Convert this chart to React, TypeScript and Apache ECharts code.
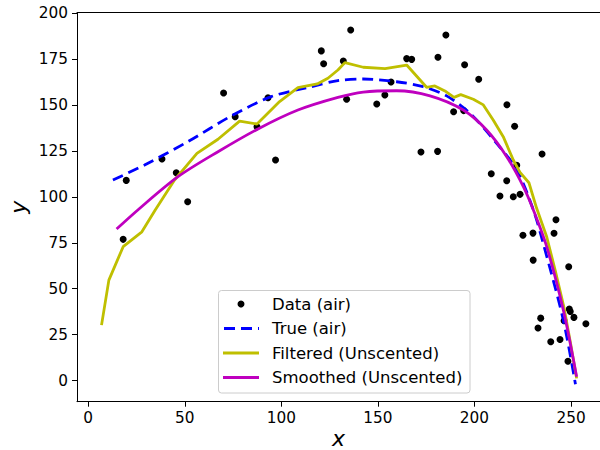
import React, { useEffect, useRef } from "react";
import * as echarts from "echarts";

const xTicks = [0, 50, 100, 150, 200, 250];
const yTicks = [0, 25, 50, 75, 100, 125, 150, 175, 200];

const dataX = [19.7, 38.2, 45.6, 51.5, 70.1, 76.1, 87.4, 93.1, 97.0, 120.7, 121.9, 135.9, 132.1, 133.8, 149.4, 153.6, 156.8, 164.9, 167.5, 185.2, 181.1, 194.9, 202.2, 189.2, 194.4, 172.3, 180.9, 216.8, 220.8, 235.0, 221.9, 208.7, 216.7, 213.2, 220.1, 223.6, 242.2, 241.2, 230.3, 225.1, 230.4, 248.8, 249.1, 249.6, 251.5, 234.3, 232.9, 246.4, 257.7, 244.3, 239.5, 248.4, 18.1];
const dataY = [109.0, 120.6, 113.2, 97.4, 156.6, 143.7, 138.2, 154.0, 120.1, 179.5, 172.5, 190.9, 174.0, 153.2, 150.6, 155.5, 162.6, 175.3, 174.9, 188.2, 176.0, 172.0, 164.1, 146.4, 147.0, 124.5, 124.8, 150.2, 138.5, 123.4, 117.2, 112.6, 108.8, 100.5, 100.1, 101.4, 87.6, 80.2, 80.3, 79.1, 65.6, 62.0, 38.9, 37.6, 34.4, 34.0, 28.6, 32.6, 30.9, 22.4, 21.1, 10.5, 76.9];

const trueX = [12.8, 29.2, 51.6, 74.1, 94.8, 115.5, 129.3, 142.4, 159.7, 173.5, 185.6, 197.7, 211.5, 221.9, 230.5, 235.6, 246.0, 252.3];
const trueY = [109.2, 117.4, 130.1, 144.1, 154.6, 160.0, 163.3, 164.2, 162.7, 160.0, 155.0, 145.5, 129.2, 114.7, 92.9, 74.7, 33.0, -2.0];

const filtX = [6.9, 10.7, 18.1, 27.8, 34.7, 44.7, 56.3, 67.2, 78.4, 87.4, 99.1, 108.6, 118.6, 124.1, 129.3, 132.9, 142.4, 153.7, 164.9, 175.2, 179.5, 184.7, 189.4, 192.9, 199.4, 204.6, 209.7, 214.9, 220.1, 223.6, 228.2, 232.2, 237.4, 241.8, 246.3, 249.8, 252.9];
const filtY = [30.2, 54.7, 72.9, 81.0, 92.9, 109.2, 123.7, 131.4, 141.3, 139.7, 151.9, 159.5, 161.5, 164.6, 169.1, 173.1, 170.6, 169.8, 171.8, 159.7, 160.4, 157.7, 154.2, 155.7, 153.2, 150.1, 141.9, 132.8, 120.1, 113.4, 107.7, 93.8, 78.3, 60.0, 40.0, 20.0, 1.2];

const smoothX = [14.7, 25.7, 46.5, 67.2, 87.9, 108.6, 129.3, 142.4, 159.7, 177.0, 194.2, 206.3, 216.7, 225.3, 230.5, 237.4, 246.0, 252.9];
const smoothY = [82.5, 92.9, 111.0, 124.6, 137.0, 147.3, 154.2, 157.1, 157.8, 155.0, 147.3, 136.4, 121.9, 105.6, 92.9, 72.9, 38.4, 2.1];

const legendLabels = ["Data (air)", "True (air)", "Filtered (Unscented)", "Smoothed (Unscented)"];

const zip = (xs: number[], ys: number[]) => xs.map((x, i) => [x, ys[i]]);

const FONT = "DejaVu Sans";

export default function App() {
  const ref = useRef<HTMLDivElement>(null);
  useEffect(() => {
    if (!ref.current) return;
    const chart = echarts.init(ref.current, null, { renderer: "svg" });
    const rowY = [304, 328.5, 353, 377.5];
    const legendGraphics: any[] = [
      {
        type: "rect",
        shape: { x: 218.5, y: 290.5, width: 251.5, height: 102.5, r: 3 },
        style: { fill: "rgba(255,255,255,0.8)", stroke: "#cccccc", lineWidth: 1 },
        z: 100,
      },
      { type: "circle", shape: { cx: 241, cy: rowY[0], r: 3.5 }, style: { fill: "#000" }, z: 101 },
      {
        type: "line",
        shape: { x1: 224, y1: rowY[1], x2: 259, y2: rowY[1] },
        style: { stroke: "#0000ff", lineWidth: 2.8, lineDash: [11, 6] },
        z: 101,
      },
      {
        type: "line",
        shape: { x1: 223, y1: rowY[2], x2: 259, y2: rowY[2] },
        style: { stroke: "#bfbf00", lineWidth: 2.8 },
        z: 101,
      },
      {
        type: "line",
        shape: { x1: 223, y1: rowY[3], x2: 259, y2: rowY[3] },
        style: { stroke: "#bf00bf", lineWidth: 2.8 },
        z: 101,
      },
      ...legendLabels.map((t, i) => ({
        type: "text",
        x: 272,
        y: rowY[i],
        style: {
          text: t,
          fill: "#000",
          fontSize: 16.5,
          fontFamily: FONT,
          verticalAlign: "middle",
        },
        z: 101,
      })),
    ];

    const commonAxisLabel = { fontSize: 15.3, fontFamily: FONT, color: "#000", margin: 9 };
    const nameStyle = { fontSize: 22, fontStyle: "italic", fontFamily: FONT, color: "#000", lineHeight: 18 };

    chart.setOption({
      animation: false,
      backgroundColor: "#fff",
      grid: {
        left: 77,
        right: 0,
        top: 12.7,
        bottom: 48.3,
        containLabel: false,
        outerBoundsMode: "none",
        show: false,
      },
      xAxis: [
        {
          type: "value",
          min: -5.8,
          max: 265,
          name: "x",
          nameLocation: "middle",
          nameGap: 28,
          nameMoveOverlap: false,
          nameTextStyle: nameStyle,
          axisLine: { show: true, onZero: false, lineStyle: { color: "#000", width: 1 } },
          axisTick: { show: true, customValues: xTicks, length: 5, lineStyle: { color: "#000" } },
          axisLabel: { ...commonAxisLabel, customValues: xTicks },
          splitLine: { show: false },
        },
        {
          type: "value",
          position: "top",
          min: -5.8,
          max: 265,
          axisLine: { show: true, onZero: false, lineStyle: { color: "#000", width: 1 } },
          axisTick: { show: false },
          axisLabel: { show: false },
          splitLine: { show: false },
        },
      ],
      yAxis: {
        type: "value",
        min: -11.5,
        max: 200.3,
        name: "y",
        nameLocation: "middle",
        nameGap: 50,
        nameRotate: 90,
        nameMoveOverlap: false,
        nameTextStyle: nameStyle,
        axisLine: { show: true, onZero: false, lineStyle: { color: "#000", width: 1 } },
        axisTick: { show: true, customValues: yTicks, length: 5, lineStyle: { color: "#000" } },
        axisLabel: { ...commonAxisLabel, customValues: yTicks },
        splitLine: { show: false },
      },
      series: [
        {
          name: legendLabels[0],
          type: "scatter",
          data: zip(dataX, dataY),
          symbol: "circle",
          symbolSize: 7,
          itemStyle: { color: "#000", opacity: 1 },
        },
        {
          name: legendLabels[1],
          type: "line",
          data: zip(trueX, trueY),
          showSymbol: false,
          symbol: "none",
          smooth: 0.3,
          lineStyle: { color: "#0000ff", width: 2.8, type: [11, 6], cap: "butt" },
        },
        {
          name: legendLabels[2],
          type: "line",
          data: zip(filtX, filtY),
          showSymbol: false,
          symbol: "none",
          lineStyle: { color: "#bfbf00", width: 2.8 },
        },
        {
          name: legendLabels[3],
          type: "line",
          data: zip(smoothX, smoothY),
          showSymbol: false,
          symbol: "none",
          smooth: 0.3,
          lineStyle: { color: "#bf00bf", width: 2.8 },
        },
      ],
      graphic: legendGraphics,
    });
    return () => chart.dispose();
  }, []);
  return (
    <div
      ref={ref}
      style={{ position: "fixed", left: 0, top: 0, width: 600, height: 450, background: "#fff" }}
    />
  );
}
